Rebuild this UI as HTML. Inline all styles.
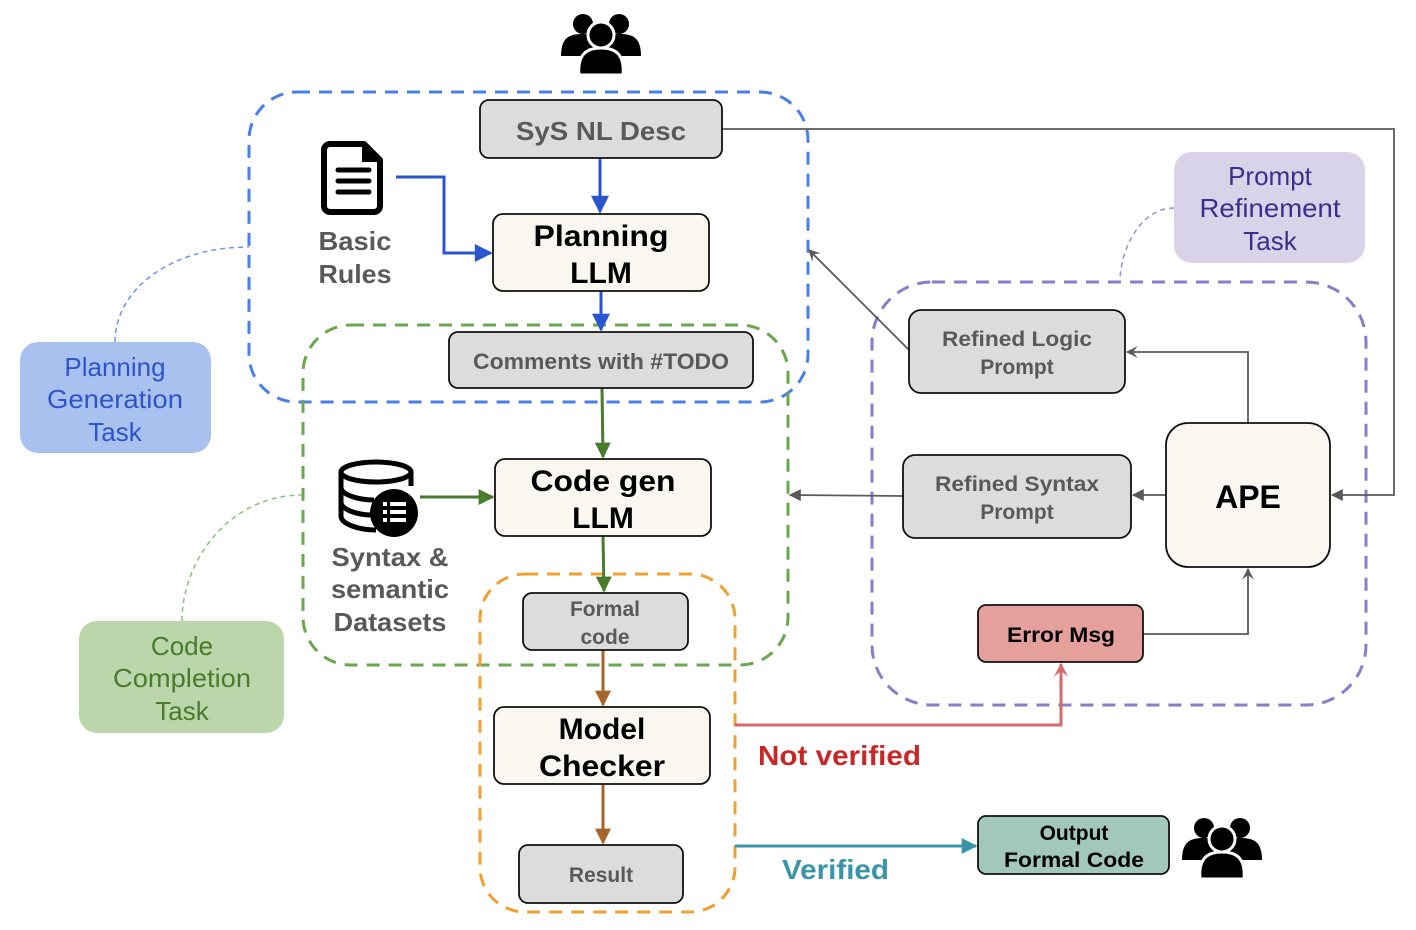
<!DOCTYPE html>
<html><head><meta charset="utf-8"><style>
html,body{margin:0;padding:0;background:#fff;}
svg{display:block;}
text{font-family:"Liberation Sans",Arial,sans-serif;}
</style></head><body>
<svg width="1416" height="930" viewBox="0 0 1416 930" xmlns="http://www.w3.org/2000/svg">
<defs>
<marker id="aGreen" viewBox="0 0 10 10" markerWidth="18" markerHeight="16" refX="9" refY="5" orient="auto" markerUnits="userSpaceOnUse"><path d="M0,0 L10,5 L0,10 z" fill="#4a7a2c"/></marker>
<marker id="aB2" viewBox="0 0 10 10" markerWidth="22" markerHeight="18" refX="9" refY="5" orient="auto" markerUnits="userSpaceOnUse"><path d="M0,0 L10,5 L0,10 z" fill="#2b55cc"/></marker>
<marker id="aBrown" viewBox="0 0 10 10" markerWidth="18" markerHeight="16" refX="9" refY="5" orient="auto" markerUnits="userSpaceOnUse"><path d="M0,0 L10,5 L0,10 z" fill="#a8652a"/></marker>
<marker id="aGray" viewBox="0 0 10 10" markerWidth="14" markerHeight="12" refX="9" refY="5" orient="auto" markerUnits="userSpaceOnUse"><path d="M0,0 L10,5 L0,10 z" fill="#5a5a5a"/></marker>
<marker id="aGrayO" viewBox="0 0 10 10" markerWidth="14" markerHeight="12" refX="9" refY="5" orient="auto" markerUnits="userSpaceOnUse"><path d="M0,0 L10,5 L0,10 L4,5 z" fill="#5a5a5a"/></marker>
<marker id="aRed" viewBox="0 0 10 10" markerWidth="18" markerHeight="14" refX="9" refY="5" orient="auto" markerUnits="userSpaceOnUse"><path d="M0,0 L10,5 L0,10 L4,5 z" fill="#d46a6a"/></marker>
<marker id="aTeal" viewBox="0 0 10 10" markerWidth="18" markerHeight="16" refX="9" refY="5" orient="auto" markerUnits="userSpaceOnUse"><path d="M0,0 L10,5 L0,10 z" fill="#3a95a8"/></marker>
<g id="people">
 <circle cx="-18" cy="-18" r="10"/><circle cx="18" cy="-18" r="10"/>
 <path d="M-40,14 C-40,-6 -30,-8 -18,-8 C-6,-8 4,-6 4,14 z"/>
 <path d="M40,14 C40,-6 30,-8 18,-8 C6,-8 -4,-6 -4,14 z"/>
 <circle cx="0" cy="-7" r="13" stroke="#fff" stroke-width="3"/>
 <path d="M-22,33 C-24,10 -12,6 0,6 C12,6 24,10 22,33 z" stroke="#fff" stroke-width="3"/>
</g>
</defs>

<rect x="249" y="92" width="559" height="310" rx="48" fill="none" stroke="#4a7fe6" stroke-width="3" stroke-dasharray="13,9"/>
<rect x="303" y="325" width="485" height="340" rx="48" fill="none" stroke="#6aa84f" stroke-width="3" stroke-dasharray="13,9"/>
<rect x="480" y="574" width="255" height="338" rx="45" fill="none" stroke="#f0a030" stroke-width="3" stroke-dasharray="13,9"/>
<rect x="872" y="282" width="494" height="423" rx="60" fill="none" stroke="#8a7cc8" stroke-width="3" stroke-dasharray="13,9"/>

<path d="M115,342 C115,290 170,247 249,247" fill="none" stroke="#6d94e8" stroke-width="1.5" stroke-dasharray="5,4"/>
<path d="M182,621 C182,560 230,495 302,495" fill="none" stroke="#8cc07a" stroke-width="1.5" stroke-dasharray="5,4"/>
<path d="M1174,208 C1140,208 1120,250 1120,282" fill="none" stroke="#9a8ed0" stroke-width="1.5" stroke-dasharray="5,4"/>

<rect x="20" y="342" width="191" height="111" rx="18" fill="#a9c1ef"/>
<text x="115" y="376" font-size="26" fill="#2d55c8" text-anchor="middle">Planning</text>
<text x="115" y="408" font-size="26" fill="#2d55c8" text-anchor="middle" textLength="136" lengthAdjust="spacingAndGlyphs">Generation</text>
<text x="115" y="441" font-size="26" fill="#2d55c8" text-anchor="middle">Task</text>
<rect x="79" y="621" width="205" height="112" rx="18" fill="#bad6aa"/>
<text x="182" y="655" font-size="26" fill="#4a7a2c" text-anchor="middle">Code</text>
<text x="182" y="687" font-size="26" fill="#4a7a2c" text-anchor="middle" textLength="138" lengthAdjust="spacingAndGlyphs">Completion</text>
<text x="182" y="720" font-size="26" fill="#4a7a2c" text-anchor="middle">Task</text>
<rect x="1174" y="152" width="191" height="111" rx="18" fill="#d9d3ea"/>
<text x="1270" y="185" font-size="26" fill="#3d2e8a" text-anchor="middle">Prompt</text>
<text x="1270" y="217" font-size="26" fill="#3d2e8a" text-anchor="middle" textLength="141" lengthAdjust="spacingAndGlyphs">Refinement</text>
<text x="1270" y="250" font-size="26" fill="#3d2e8a" text-anchor="middle">Task</text>

<use href="#people" transform="translate(601,42)" fill="#000"/>
<use href="#people" transform="translate(1222,846)" fill="#000"/>

<path d="M330,144 h34 l16,16 v46 a6,6 0 0 1 -6,6 h-44 a6,6 0 0 1 -6,-6 v-56 a6,6 0 0 1 6,-6 z" fill="none" stroke="#000" stroke-width="6" stroke-linejoin="round"/>
<path d="M362,142 v20 h20 z" fill="#000"/>
<g stroke="#000" stroke-width="5" stroke-linecap="round"><line x1="338" y1="170" x2="369" y2="170"/><line x1="338" y1="181" x2="369" y2="181"/><line x1="338" y1="192" x2="369" y2="192"/></g>
<text x="355" y="250" font-size="26" font-weight="bold" fill="#595959" text-anchor="middle" textLength="73" lengthAdjust="spacingAndGlyphs">Basic</text>
<text x="355" y="283" font-size="26" font-weight="bold" fill="#595959" text-anchor="middle" textLength="73" lengthAdjust="spacingAndGlyphs">Rules</text>

<g fill="none" stroke="#000" stroke-width="5">
<ellipse cx="376" cy="472" rx="35" ry="10"/>
<path d="M341,472 v44 c0,8 18,14 35,14"/>
<path d="M411,472 v14"/>
<path d="M341,487 c0,8 18,13 33,13"/>
<path d="M341,502 c0,8 18,13 30,13"/>
</g>
<circle cx="394" cy="513" r="24" fill="#000"/>
<g fill="#fff"><rect x="383" y="502" width="4" height="4"/><rect x="390" y="502" width="16" height="4"/><rect x="383" y="510" width="4" height="4"/><rect x="390" y="510" width="16" height="4"/><rect x="383" y="518" width="4" height="4"/><rect x="390" y="518" width="16" height="4"/></g>
<text x="390" y="566" font-size="26" font-weight="bold" fill="#595959" text-anchor="middle" textLength="117" lengthAdjust="spacingAndGlyphs">Syntax &amp;</text>
<text x="390" y="598" font-size="26" font-weight="bold" fill="#595959" text-anchor="middle" textLength="118" lengthAdjust="spacingAndGlyphs">semantic</text>
<text x="390" y="631" font-size="26" font-weight="bold" fill="#595959" text-anchor="middle" textLength="113" lengthAdjust="spacingAndGlyphs">Datasets</text>

<line x1="600" y1="158" x2="600" y2="212" stroke="#2b55cc" stroke-width="3" marker-end="url(#aB2)"/>
<polyline points="396,177 444,177 444,253 491,253" fill="none" stroke="#2b55cc" stroke-width="3" marker-end="url(#aB2)"/>
<line x1="601" y1="291" x2="601" y2="330" stroke="#2b55cc" stroke-width="3" marker-end="url(#aB2)"/>
<line x1="602" y1="388" x2="603" y2="457" stroke="#4a7a2c" stroke-width="3" marker-end="url(#aGreen)"/>
<line x1="420" y1="497" x2="493" y2="497" stroke="#4a7a2c" stroke-width="3" marker-end="url(#aGreen)"/>
<line x1="603" y1="536" x2="604" y2="591" stroke="#4a7a2c" stroke-width="3" marker-end="url(#aGreen)"/>
<line x1="603" y1="650" x2="603" y2="705" stroke="#a8652a" stroke-width="3" marker-end="url(#aBrown)"/>
<line x1="603" y1="784" x2="603" y2="843" stroke="#a8652a" stroke-width="3" marker-end="url(#aBrown)"/>
<polyline points="722,129 1394,129 1394,495 1332,495" fill="none" stroke="#5a5a5a" stroke-width="1.8" marker-end="url(#aGray)"/>
<line x1="909" y1="350" x2="809" y2="250" stroke="#5a5a5a" stroke-width="1.8" marker-end="url(#aGrayO)"/>
<polyline points="1248,423 1248,352 1127,352" fill="none" stroke="#5a5a5a" stroke-width="1.8" marker-end="url(#aGrayO)"/>
<line x1="1166" y1="495" x2="1133" y2="495" stroke="#5a5a5a" stroke-width="1.8" marker-end="url(#aGray)"/>
<line x1="903" y1="496" x2="790" y2="495" stroke="#5a5a5a" stroke-width="1.8" marker-end="url(#aGray)"/>
<polyline points="1143,634 1248,634 1248,569" fill="none" stroke="#5a5a5a" stroke-width="1.8" marker-end="url(#aGrayO)"/>
<polyline points="735,725 1061,725 1061,664" fill="none" stroke="#d46a6a" stroke-width="3" marker-end="url(#aRed)"/>
<line x1="735" y1="846" x2="976" y2="846" stroke="#3a95a8" stroke-width="3" marker-end="url(#aTeal)"/>
<text x="758" y="765" font-size="28" font-weight="bold" fill="#c62828" textLength="163" lengthAdjust="spacingAndGlyphs">Not verified</text>
<text x="782" y="879" font-size="28" font-weight="bold" fill="#3a95a8" textLength="107" lengthAdjust="spacingAndGlyphs">Verified</text>

<g stroke="#111" stroke-width="1.8">
<rect x="480" y="100" width="242" height="58" rx="9" fill="#dcdcdc"/>
<rect x="493" y="214" width="216" height="77" rx="10" fill="#f9f7ef"/>
<rect x="449" y="332" width="304" height="56" rx="9" fill="#dcdcdc"/>
<rect x="495" y="459" width="216" height="77" rx="10" fill="#f9f7ef"/>
<rect x="523" y="593" width="165" height="57" rx="9" fill="#dcdcdc"/>
<rect x="494" y="707" width="216" height="77" rx="10" fill="#f9f7ef"/>
<rect x="519" y="845" width="164" height="58" rx="9" fill="#dcdcdc"/>
<rect x="909" y="310" width="216" height="83" rx="12" fill="#dcdcdc"/>
<rect x="903" y="455" width="228" height="83" rx="12" fill="#dcdcdc"/>
<rect x="1166" y="423" width="164" height="144" rx="22" fill="#f9f7ef"/>
<rect x="978" y="605" width="165" height="57" rx="8" fill="#e6a09b"/>
<rect x="978" y="816" width="191" height="58" rx="8" fill="#a2c8bb"/>
</g>
<text x="601" y="140" font-size="26" font-weight="bold" fill="#595959" text-anchor="middle" textLength="170" lengthAdjust="spacingAndGlyphs">SyS NL Desc</text>
<text x="601" y="246" font-size="30" font-weight="bold" fill="#000" text-anchor="middle" textLength="135" lengthAdjust="spacingAndGlyphs">Planning</text>
<text x="601" y="283" font-size="30" font-weight="bold" fill="#000" text-anchor="middle">LLM</text>
<text x="601" y="369" font-size="22" font-weight="bold" fill="#595959" text-anchor="middle" textLength="256" lengthAdjust="spacingAndGlyphs">Comments with #TODO</text>
<text x="603" y="491" font-size="30" font-weight="bold" fill="#000" text-anchor="middle" textLength="145" lengthAdjust="spacingAndGlyphs">Code gen</text>
<text x="603" y="528" font-size="30" font-weight="bold" fill="#000" text-anchor="middle">LLM</text>
<text x="605" y="616" font-size="21" font-weight="bold" fill="#595959" text-anchor="middle">Formal</text>
<text x="605" y="644" font-size="21" font-weight="bold" fill="#595959" text-anchor="middle">code</text>
<text x="602" y="739" font-size="30" font-weight="bold" fill="#000" text-anchor="middle">Model</text>
<text x="602" y="776" font-size="30" font-weight="bold" fill="#000" text-anchor="middle" textLength="126" lengthAdjust="spacingAndGlyphs">Checker</text>
<text x="601" y="882" font-size="21" font-weight="bold" fill="#595959" text-anchor="middle">Result</text>
<text x="1017" y="346" font-size="21" font-weight="bold" fill="#595959" text-anchor="middle" textLength="150" lengthAdjust="spacingAndGlyphs">Refined Logic</text>
<text x="1017" y="374" font-size="21" font-weight="bold" fill="#595959" text-anchor="middle">Prompt</text>
<text x="1017" y="491" font-size="21" font-weight="bold" fill="#595959" text-anchor="middle" textLength="164" lengthAdjust="spacingAndGlyphs">Refined Syntax</text>
<text x="1017" y="519" font-size="21" font-weight="bold" fill="#595959" text-anchor="middle">Prompt</text>
<text x="1248" y="508" font-size="32" font-weight="bold" fill="#000" text-anchor="middle">APE</text>
<text x="1061" y="642" font-size="21" font-weight="bold" fill="#000" text-anchor="middle" textLength="108" lengthAdjust="spacingAndGlyphs">Error Msg</text>
<text x="1074" y="840" font-size="21" font-weight="bold" fill="#000" text-anchor="middle">Output</text>
<text x="1074" y="867" font-size="21" font-weight="bold" fill="#000" text-anchor="middle" textLength="140" lengthAdjust="spacingAndGlyphs">Formal Code</text>
</svg>
</body></html>
